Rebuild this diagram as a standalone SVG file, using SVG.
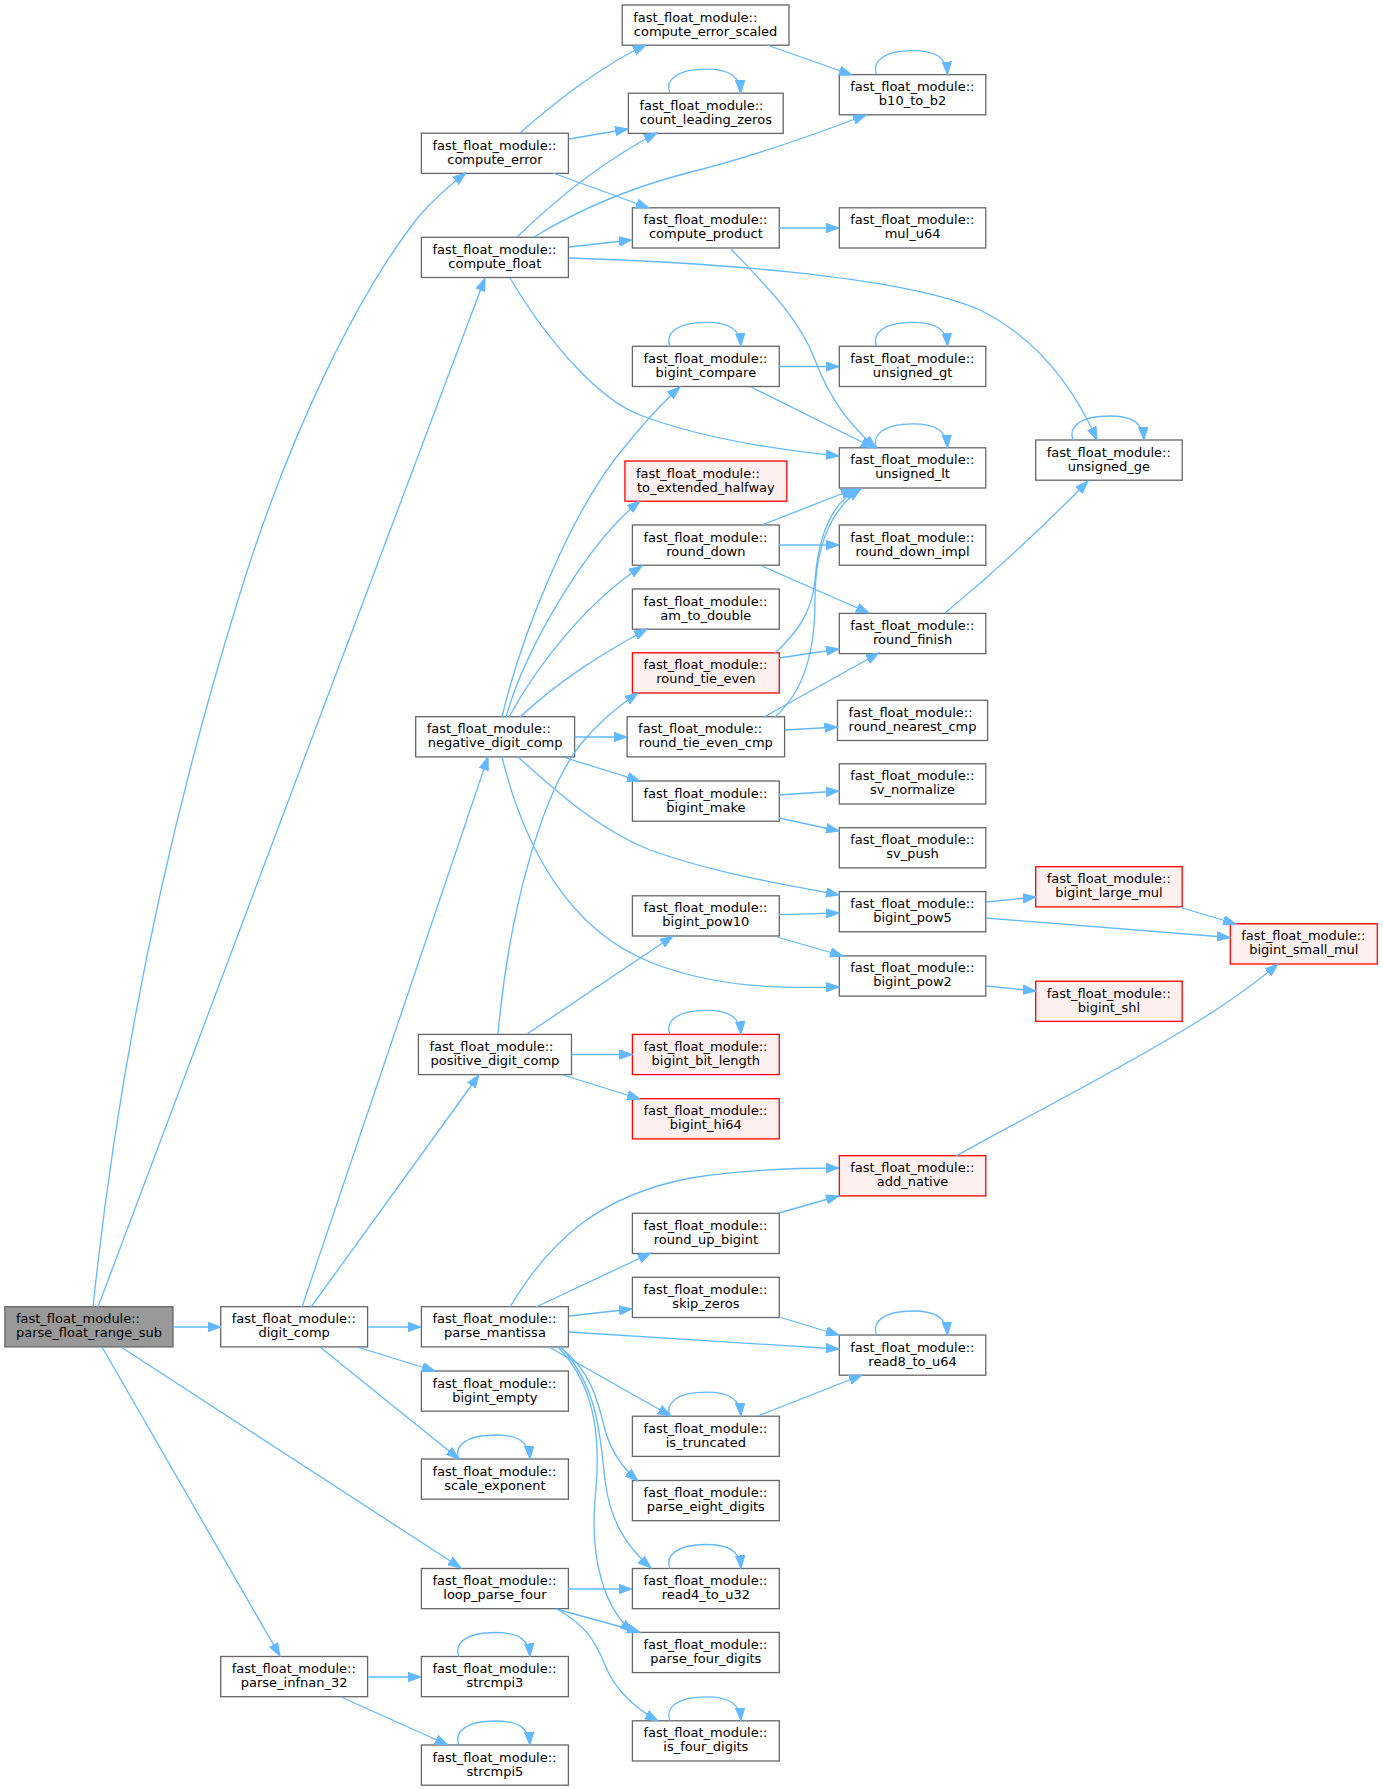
<svg xmlns="http://www.w3.org/2000/svg" width="1383" height="1789" viewBox="0 0 1383 1789">
<style>
.n rect{fill:#ffffff;stroke:#666666;stroke-width:1.3}
.r rect{fill:#fff0f0;stroke:#ff0000}
.root rect{fill:#999999}
text{font-family:"DejaVu Sans","Liberation Sans",sans-serif;font-size:13px;fill:#000000}
.c{text-anchor:middle}
.e path{fill:none;stroke:#63b8ff;stroke-width:1.3;marker-end:url(#a)}
</style>
<defs>
<marker id="a" markerUnits="userSpaceOnUse" markerWidth="14" markerHeight="10" refX="13" refY="5" orient="auto">
<path d="M0,0.3 L13,5 L0,9.7 Z" fill="#63b8ff" stroke="#63b8ff" stroke-width="1"/>
</marker>
</defs>
<rect width="1383" height="1789" fill="#ffffff"/>
<g id="nodes">
<g id="n_parse_float_range_sub" class="n root"><rect x="4.9" y="1306.7" width="168.1" height="40.2"/><text x="15.9" y="1323.2">fast_float_module::</text><text class="c" x="89" y="1337.2">parse_float_range_sub</text></g>
<g id="n_digit_comp" class="n"><rect x="220.7" y="1306.7" width="146.9" height="40.2"/><text x="231.7" y="1323.2">fast_float_module::</text><text class="c" x="294.15" y="1337.2">digit_comp</text></g>
<g id="n_parse_infnan_32" class="n"><rect x="220.7" y="1656.5" width="146.9" height="40.2"/><text x="231.7" y="1673">fast_float_module::</text><text class="c" x="294.15" y="1687">parse_infnan_32</text></g>
<g id="n_compute_error" class="n"><rect x="421.4" y="133.2" width="147" height="40.2"/><text x="432.4" y="149.7">fast_float_module::</text><text class="c" x="494.9" y="163.7">compute_error</text></g>
<g id="n_compute_float" class="n"><rect x="421.4" y="237.3" width="147" height="40.2"/><text x="432.4" y="253.8">fast_float_module::</text><text class="c" x="494.9" y="267.8">compute_float</text></g>
<g id="n_negative_digit_comp" class="n"><rect x="415.7" y="716.7" width="158.9" height="40.2"/><text x="426.7" y="733.2">fast_float_module::</text><text class="c" x="495.15" y="747.2">negative_digit_comp</text></g>
<g id="n_positive_digit_comp" class="n"><rect x="418.4" y="1034.4" width="153.1" height="40.2"/><text x="429.4" y="1050.9">fast_float_module::</text><text class="c" x="494.95" y="1064.9">positive_digit_comp</text></g>
<g id="n_parse_mantissa" class="n"><rect x="421.4" y="1306.7" width="147" height="40.2"/><text x="432.4" y="1323.2">fast_float_module::</text><text class="c" x="494.9" y="1337.2">parse_mantissa</text></g>
<g id="n_bigint_empty" class="n"><rect x="421.4" y="1371" width="147" height="40.2"/><text x="432.4" y="1387.5">fast_float_module::</text><text class="c" x="494.9" y="1401.5">bigint_empty</text></g>
<g id="n_scale_exponent" class="n"><rect x="421.4" y="1459" width="147" height="40.2"/><text x="432.4" y="1475.5">fast_float_module::</text><text class="c" x="494.9" y="1489.5">scale_exponent</text></g>
<g id="n_loop_parse_four" class="n"><rect x="421.4" y="1568.5" width="147" height="40.2"/><text x="432.4" y="1585">fast_float_module::</text><text class="c" x="494.9" y="1599">loop_parse_four</text></g>
<g id="n_strcmpi3" class="n"><rect x="421.4" y="1656.5" width="147" height="40.2"/><text x="432.4" y="1673">fast_float_module::</text><text class="c" x="494.9" y="1687">strcmpi3</text></g>
<g id="n_strcmpi5" class="n"><rect x="421.4" y="1745" width="147" height="40.2"/><text x="432.4" y="1761.5">fast_float_module::</text><text class="c" x="494.9" y="1775.5">strcmpi5</text></g>
<g id="n_compute_error_scaled" class="n"><rect x="622.2" y="5" width="166.8" height="40.2"/><text x="633.2" y="21.5">fast_float_module::</text><text class="c" x="705.6" y="35.5">compute_error_scaled</text></g>
<g id="n_count_leading_zeros" class="n"><rect x="628.4" y="93.2" width="154.8" height="40.2"/><text x="639.4" y="109.7">fast_float_module::</text><text class="c" x="705.8" y="123.7">count_leading_zeros</text></g>
<g id="n_compute_product" class="n"><rect x="632.4" y="207.8" width="146.9" height="40.2"/><text x="643.4" y="224.3">fast_float_module::</text><text class="c" x="705.85" y="238.3">compute_product</text></g>
<g id="n_bigint_compare" class="n"><rect x="632.4" y="346.3" width="146.9" height="40.2"/><text x="643.4" y="362.8">fast_float_module::</text><text class="c" x="705.85" y="376.8">bigint_compare</text></g>
<g id="n_to_extended_halfway" class="n r"><rect x="624.9" y="461" width="161.9" height="40.2"/><text x="635.9" y="477.5">fast_float_module::</text><text class="c" x="705.85" y="491.5">to_extended_halfway</text></g>
<g id="n_round_down" class="n"><rect x="632.4" y="525" width="146.9" height="40.2"/><text x="643.4" y="541.5">fast_float_module::</text><text class="c" x="705.85" y="555.5">round_down</text></g>
<g id="n_am_to_double" class="n"><rect x="632.4" y="589" width="146.9" height="40.2"/><text x="643.4" y="605.5">fast_float_module::</text><text class="c" x="705.85" y="619.5">am_to_double</text></g>
<g id="n_round_tie_even" class="n r"><rect x="632.4" y="652.8" width="146.9" height="40.2"/><text x="643.4" y="669.3">fast_float_module::</text><text class="c" x="705.85" y="683.3">round_tie_even</text></g>
<g id="n_round_tie_even_cmp" class="n"><rect x="627.1" y="716.7" width="157.5" height="40.2"/><text x="638.1" y="733.2">fast_float_module::</text><text class="c" x="705.85" y="747.2">round_tie_even_cmp</text></g>
<g id="n_bigint_make" class="n"><rect x="632.4" y="781" width="146.9" height="40.2"/><text x="643.4" y="797.5">fast_float_module::</text><text class="c" x="705.85" y="811.5">bigint_make</text></g>
<g id="n_bigint_pow10" class="n"><rect x="632.4" y="895.8" width="146.9" height="40.2"/><text x="643.4" y="912.3">fast_float_module::</text><text class="c" x="705.85" y="926.3">bigint_pow10</text></g>
<g id="n_bigint_bit_length" class="n r"><rect x="632.4" y="1034.4" width="146.9" height="40.2"/><text x="643.4" y="1050.9">fast_float_module::</text><text class="c" x="705.85" y="1064.9">bigint_bit_length</text></g>
<g id="n_bigint_hi64" class="n r"><rect x="632.4" y="1098.7" width="146.9" height="40.2"/><text x="643.4" y="1115.2">fast_float_module::</text><text class="c" x="705.85" y="1129.2">bigint_hi64</text></g>
<g id="n_round_up_bigint" class="n"><rect x="632.4" y="1213.3" width="146.9" height="40.2"/><text x="643.4" y="1229.8">fast_float_module::</text><text class="c" x="705.85" y="1243.8">round_up_bigint</text></g>
<g id="n_skip_zeros" class="n"><rect x="632.4" y="1277.3" width="146.9" height="40.2"/><text x="643.4" y="1293.8">fast_float_module::</text><text class="c" x="705.85" y="1307.8">skip_zeros</text></g>
<g id="n_is_truncated" class="n"><rect x="632.4" y="1416.2" width="146.9" height="40.2"/><text x="643.4" y="1432.7">fast_float_module::</text><text class="c" x="705.85" y="1446.7">is_truncated</text></g>
<g id="n_parse_eight_digits" class="n"><rect x="632.4" y="1480.5" width="146.9" height="40.2"/><text x="643.4" y="1497">fast_float_module::</text><text class="c" x="705.85" y="1511">parse_eight_digits</text></g>
<g id="n_read4_to_u32" class="n"><rect x="632.4" y="1568.5" width="146.9" height="40.2"/><text x="643.4" y="1585">fast_float_module::</text><text class="c" x="705.85" y="1599">read4_to_u32</text></g>
<g id="n_parse_four_digits" class="n"><rect x="632.4" y="1632.4" width="146.9" height="40.2"/><text x="643.4" y="1648.9">fast_float_module::</text><text class="c" x="705.85" y="1662.9">parse_four_digits</text></g>
<g id="n_is_four_digits" class="n"><rect x="632.4" y="1720.8" width="146.9" height="40.2"/><text x="643.4" y="1737.3">fast_float_module::</text><text class="c" x="705.85" y="1751.3">is_four_digits</text></g>
<g id="n_b10_to_b2" class="n"><rect x="839.3" y="74.6" width="146.5" height="40.2"/><text x="850.3" y="91.1">fast_float_module::</text><text class="c" x="912.55" y="105.1">b10_to_b2</text></g>
<g id="n_mul_u64" class="n"><rect x="839.3" y="207.8" width="146.5" height="40.2"/><text x="850.3" y="224.3">fast_float_module::</text><text class="c" x="912.55" y="238.3">mul_u64</text></g>
<g id="n_unsigned_gt" class="n"><rect x="839.3" y="346.3" width="146.5" height="40.2"/><text x="850.3" y="362.8">fast_float_module::</text><text class="c" x="912.55" y="376.8">unsigned_gt</text></g>
<g id="n_unsigned_lt" class="n"><rect x="839.3" y="447.8" width="146.5" height="40.2"/><text x="850.3" y="464.3">fast_float_module::</text><text class="c" x="912.55" y="478.3">unsigned_lt</text></g>
<g id="n_round_down_impl" class="n"><rect x="839.3" y="525" width="146.5" height="40.2"/><text x="850.3" y="541.5">fast_float_module::</text><text class="c" x="912.55" y="555.5">round_down_impl</text></g>
<g id="n_round_finish" class="n"><rect x="839.3" y="613.4" width="146.5" height="40.2"/><text x="850.3" y="629.9">fast_float_module::</text><text class="c" x="912.55" y="643.9">round_finish</text></g>
<g id="n_round_nearest_cmp" class="n"><rect x="837.5" y="700.3" width="150.1" height="40.2"/><text x="848.5" y="716.8">fast_float_module::</text><text class="c" x="912.55" y="730.8">round_nearest_cmp</text></g>
<g id="n_sv_normalize" class="n"><rect x="839.3" y="763.8" width="146.5" height="40.2"/><text x="850.3" y="780.3">fast_float_module::</text><text class="c" x="912.55" y="794.3">sv_normalize</text></g>
<g id="n_sv_push" class="n"><rect x="839.3" y="827.7" width="146.5" height="40.2"/><text x="850.3" y="844.2">fast_float_module::</text><text class="c" x="912.55" y="858.2">sv_push</text></g>
<g id="n_bigint_pow5" class="n"><rect x="839.3" y="891.6" width="146.5" height="40.2"/><text x="850.3" y="908.1">fast_float_module::</text><text class="c" x="912.55" y="922.1">bigint_pow5</text></g>
<g id="n_bigint_pow2" class="n"><rect x="839.3" y="955.9" width="146.5" height="40.2"/><text x="850.3" y="972.4">fast_float_module::</text><text class="c" x="912.55" y="986.4">bigint_pow2</text></g>
<g id="n_add_native" class="n r"><rect x="839.3" y="1155.7" width="146.5" height="40.2"/><text x="850.3" y="1172.2">fast_float_module::</text><text class="c" x="912.55" y="1186.2">add_native</text></g>
<g id="n_read8_to_u64" class="n"><rect x="839.3" y="1335" width="146.5" height="40.2"/><text x="850.3" y="1351.5">fast_float_module::</text><text class="c" x="912.55" y="1365.5">read8_to_u64</text></g>
<g id="n_unsigned_ge" class="n"><rect x="1035.7" y="440" width="146.5" height="40.2"/><text x="1046.7" y="456.5">fast_float_module::</text><text class="c" x="1108.95" y="470.5">unsigned_ge</text></g>
<g id="n_bigint_large_mul" class="n r"><rect x="1035.7" y="866.7" width="146.5" height="40.2"/><text x="1046.7" y="883.2">fast_float_module::</text><text class="c" x="1108.95" y="897.2">bigint_large_mul</text></g>
<g id="n_bigint_shl" class="n r"><rect x="1035.7" y="981.2" width="146.5" height="40.2"/><text x="1046.7" y="997.7">fast_float_module::</text><text class="c" x="1108.95" y="1011.7">bigint_shl</text></g>
<g id="n_bigint_small_mul" class="n r"><rect x="1230.3" y="923.8" width="147" height="40.2"/><text x="1241.3" y="940.3">fast_float_module::</text><text class="c" x="1303.8" y="954.3">bigint_small_mul</text></g>
</g>
<g id="edges" class="e">
<path d="M93,1307 C120,1050 170,820 238,600 C290,430 360,290 420,215 C435,198 450,185 466,173"/>
<path d="M98,1307 L485,278"/>
<path d="M173,1327 L221,1327"/>
<path d="M121,1347 L461,1568"/>
<path d="M102,1347 L280,1656"/>
<path d="M302,1307 L488,757"/>
<path d="M311,1307 L479,1075"/>
<path d="M368,1327 L421,1327"/>
<path d="M357,1347 L435,1371"/>
<path d="M320,1347 L459,1459"/>
<path d="M520,133 C548,108 600,66 646,45"/>
<path d="M569,139 L628,129"/>
<path d="M553,173 L649,208"/>
<path d="M517,237 C548,207 595,165 657,133"/>
<path d="M534,237 C570,215 620,190 691,172 C740,160 800,140 866,115"/>
<path d="M569,247 L632,240"/>
<path d="M569,258 C700,262 900,275 980,310 C1040,340 1075,390 1097,440"/>
<path d="M510,278 C550,345 600,400 640,415 C700,438 780,450 839,456"/>
<path d="M767,45 L852,75"/>
<path d="M779,228 L839,228"/>
<path d="M731,249 C770,290 800,320 815,360 C830,400 850,425 876,448"/>
<path d="M779,366.5 L839,366.5"/>
<path d="M751,387 L874,448"/>
<path d="M762,525 L854,489"/>
<path d="M779,545 L839,545"/>
<path d="M762,566 L869,613"/>
<path d="M945,613 C985,580 1040,530 1088,481"/>
<path d="M775,653 C800,630 812,610 815,580 C818,540 830,505 857,489"/>
<path d="M779,658 L839,649"/>
<path d="M775,717 C805,690 815,650 815,600 C815,545 832,508 861,489"/>
<path d="M764,717 L879,653"/>
<path d="M785,730 L837.5,727"/>
<path d="M502,717 C520,640 570,510 627,444 C645,422 663,402 680,387"/>
<path d="M506,717 C525,650 585,545 640,501"/>
<path d="M509,717 C540,660 590,600 642,566"/>
<path d="M520,717 C560,680 600,655 647,629"/>
<path d="M574.6,737 L627,737"/>
<path d="M563,757 L640,781"/>
<path d="M518,757 C560,795 600,830 650,850 C720,875 790,885 839,895"/>
<path d="M502,757 C525,850 570,930 650,962 C720,990 790,988 839,987"/>
<path d="M498,1034 C510,900 545,790 580,745 C600,720 620,705 638,693"/>
<path d="M527,1034 L673,936"/>
<path d="M571.5,1054.5 L632.4,1054.5"/>
<path d="M563,1075 L640,1099"/>
<path d="M779,795 L839,791"/>
<path d="M779,818 L839,831"/>
<path d="M779,914.6 L839,913"/>
<path d="M777,937 L843,956"/>
<path d="M986,902 L1036,897"/>
<path d="M986,918 L1230,937.5"/>
<path d="M1179,907 L1236,924"/>
<path d="M986,986 L1036,991"/>
<path d="M956,1156 C1020,1120 1120,1070 1200,1020 C1240,995 1265,975 1278,964"/>
<path d="M510,1307 C550,1240 600,1195 691,1178 C740,1170 790,1168 839,1168"/>
<path d="M536,1307 L651,1253"/>
<path d="M569,1316 L632,1309"/>
<path d="M569,1332 L839,1349"/>
<path d="M549,1347 L671,1416"/>
<path d="M560,1347 C590,1370 598,1400 605,1430 C612,1455 625,1470 638,1481"/>
<path d="M561,1347 C600,1390 600,1440 605,1480 C610,1520 625,1545 651,1568"/>
<path d="M558,1347 C600,1390 600,1450 595,1500 C590,1560 605,1610 633,1632"/>
<path d="M779,1213 L839,1196"/>
<path d="M779,1317 L839,1335"/>
<path d="M758,1416 L862,1375"/>
<path d="M568,1589 L632,1589"/>
<path d="M556,1609 L640,1632"/>
<path d="M557,1609 C585,1625 595,1640 605,1665 C615,1690 635,1708 658,1721"/>
<path d="M368,1677 L421,1677"/>
<path d="M341,1697 L448,1745"/>
<path d="M876.5,74.6 C871.5,61.6 883.5,50.6 912.5,50.6 C936.5,50.6 946.5,57.6 947.5,74.6"/>
<path d="M669.8,93.2 C664.8,80.2 676.8,69.2 705.8,69.2 C729.8,69.2 739.8,76.2 740.8,93.2"/>
<path d="M669.9,346.3 C664.9,333.3 676.9,322.3 705.9,322.3 C729.9,322.3 739.9,329.3 740.9,346.3"/>
<path d="M876.5,346.3 C871.5,333.3 883.5,322.3 912.5,322.3 C936.5,322.3 946.5,329.3 947.5,346.3"/>
<path d="M876.5,447.8 C871.5,434.8 883.5,423.8 912.5,423.8 C936.5,423.8 946.5,430.8 947.5,447.8"/>
<path d="M1073,440 C1068,427 1080,416 1109,416 C1133,416 1143,423 1144,440"/>
<path d="M669.9,1034.4 C664.9,1021.4 676.9,1010.4 705.9,1010.4 C729.9,1010.4 739.9,1017.4 740.9,1034.4"/>
<path d="M669.9,1416.2 C664.9,1403.2 676.9,1392.2 705.9,1392.2 C729.9,1392.2 739.9,1399.2 740.9,1416.2"/>
<path d="M876.5,1335 C871.5,1322 883.5,1311 912.5,1311 C936.5,1311 946.5,1318 947.5,1335"/>
<path d="M669.9,1568.5 C664.9,1555.5 676.9,1544.5 705.9,1544.5 C729.9,1544.5 739.9,1551.5 740.9,1568.5"/>
<path d="M669.9,1720.8 C664.9,1707.8 676.9,1696.8 705.9,1696.8 C729.9,1696.8 739.9,1703.8 740.9,1720.8"/>
<path d="M458.9,1459 C453.9,1446 465.9,1435 494.9,1435 C518.9,1435 528.9,1442 529.9,1459"/>
<path d="M458.9,1656.5 C453.9,1643.5 465.9,1632.5 494.9,1632.5 C518.9,1632.5 528.9,1639.5 529.9,1656.5"/>
<path d="M458.9,1745 C453.9,1732 465.9,1721 494.9,1721 C518.9,1721 528.9,1728 529.9,1745"/>
</g>
</svg>
